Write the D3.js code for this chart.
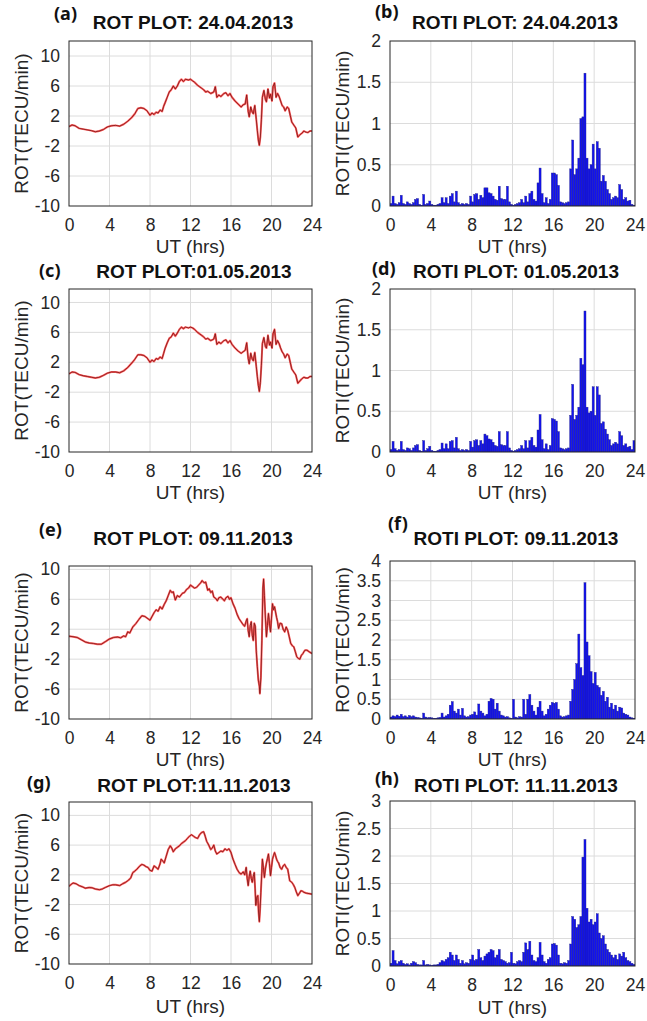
<!DOCTYPE html>
<html>
<head>
<meta charset="utf-8">
<script src="https://cdn.jsdelivr.net/npm/d3@7"></script>
<style>
  body { margin: 0; background: #fff; }
  svg { display: block; font-family: "Liberation Sans", Arial, sans-serif; }
</style>
</head>
<body>
<svg id="fig" width="647" height="1021"></svg>
<script>
// ---- axis ticks ----
const hourTicks = [0, 4, 8, 12, 16, 20, 24];
const rotTicks = [-10, -6, -2, 2, 6, 10];
const rotiTicks2 = [0, 0.5, 1, 1.5, 2];
const rotiTicks3 = [0, 0.5, 1, 1.5, 2, 2.5, 3];
const rotiTicks4 = [0, 0.5, 1, 1.5, 2, 2.5, 3, 3.5, 4];

// ---- ROT series, [UT hour, TECU/min] ----
const rotA = [
  [0,0.6],[0.3,0.8],[0.6,0.7],[1,0.35],[1.4,0.25],[1.8,0.15],[2.2,0.05],[2.6,-0.1],[3,0.0],[3.4,0.2],
  [3.8,0.55],[4.2,0.7],[4.6,0.75],[5,0.65],[5.4,0.9],[5.8,1.3],[6.2,1.8],[6.5,2.3],[6.8,3.0],[7.1,3.1],
  [7.4,3.0],[7.7,2.7],[8,2.1],[8.2,2.4],[8.4,2.2],[8.6,2.5],[8.8,2.4],[9,2.8],[9.2,2.6],[9.35,3.3],
  [9.5,3.8],[9.7,4.5],[9.9,5.2],[10.1,5.5],[10.3,6.0],[10.5,5.6],[10.7,6.0],[10.9,6.6],[11.1,6.9],[11.3,6.6],
  [11.5,6.9],[11.8,6.8],[12,6.9],[12.2,6.7],[12.4,6.5],[12.7,6.1],[12.9,5.9],[13.1,5.7],[13.3,5.5],[13.5,5.2],
  [13.7,5.3],[14,5.0],[14.3,5.2],[14.45,5.9],[14.6,4.5],[14.8,4.8],[15,4.6],[15.3,5.0],[15.5,5.1],[15.7,4.7],
  [15.9,5.0],[16.1,4.5],[16.4,4.0],[16.7,3.6],[17,3.2],[17.2,3.5],[17.4,3.6],[17.55,4.8],[17.7,2.6],[17.8,1.9],
  [17.95,3.2],[18.1,2.5],[18.2,2.3],[18.35,3.4],[18.5,1.5],[18.6,0.1],[18.7,-1.2],[18.8,-1.9],[18.9,-0.8],[19.0,1.5],
  [19.1,4.5],[19.25,5.4],[19.4,4.2],[19.5,3.9],[19.65,5.6],[19.8,4.4],[19.9,4.9],[20.05,4.0],[20.15,5.9],[20.3,6.4],
  [20.45,4.5],[20.6,5.0],[20.75,4.6],[20.9,4.0],[21.05,3.4],[21.2,3.2],[21.35,2.7],[21.55,3.2],[21.7,3.0],[21.85,2.1],
  [22,1.2],[22.2,0.8],[22.4,0.4],[22.6,-0.8],[22.8,-0.5],[23.0,-0.3],[23.2,0.0],[23.4,-0.15],[23.6,-0.2],[23.8,0.0],[24,0.0]
];
const rotC = [
  [0,0.45],[0.3,0.7],[0.6,0.65],[1,0.35],[1.4,0.2],[1.8,0.1],[2.2,0.0],[2.6,-0.1],[3,0.0],[3.4,0.25],
  [3.8,0.55],[4.2,0.7],[4.6,0.7],[5,0.6],[5.4,0.85],[5.8,1.3],[6.2,1.9],[6.5,2.4],[6.8,3.0],[7.1,3.0],
  [7.4,2.9],[7.7,2.6],[8,2.0],[8.2,2.3],[8.4,2.1],[8.6,2.5],[8.8,2.4],[9,2.7],[9.2,2.5],[9.35,3.2],
  [9.5,3.9],[9.7,4.6],[9.9,5.2],[10.1,5.4],[10.3,5.9],[10.5,5.5],[10.7,5.9],[10.9,6.4],[11.1,6.7],[11.3,6.5],
  [11.5,6.7],[11.8,6.6],[12,6.7],[12.2,6.6],[12.4,6.4],[12.7,6.0],[12.9,5.8],[13.1,5.6],[13.3,5.4],[13.5,5.1],
  [13.7,5.2],[14,4.9],[14.3,5.1],[14.45,5.8],[14.6,4.4],[14.8,4.7],[15,4.5],[15.3,4.9],[15.5,5.0],[15.7,4.6],
  [15.9,4.9],[16.1,4.4],[16.4,3.9],[16.7,3.5],[17,3.2],[17.2,3.4],[17.4,3.6],[17.55,4.6],[17.7,2.5],[17.8,1.8],
  [17.95,3.2],[18.1,2.4],[18.2,2.2],[18.35,3.3],[18.5,1.4],[18.6,0.1],[18.7,-1.1],[18.8,-1.9],[18.9,-0.7],[19.0,1.6],
  [19.1,4.5],[19.25,5.3],[19.4,4.1],[19.5,3.9],[19.65,5.6],[19.8,4.3],[19.9,4.7],[20.05,3.9],[20.15,5.8],[20.3,6.4],
  [20.45,4.4],[20.6,4.9],[20.75,4.5],[20.9,3.9],[21.05,3.4],[21.2,3.1],[21.35,2.6],[21.55,3.1],[21.7,2.9],[21.85,2.0],
  [22,1.1],[22.2,0.7],[22.4,0.3],[22.6,-0.8],[22.8,-0.5],[23.0,-0.2],[23.2,0.0],[23.4,-0.1],[23.6,-0.1],[23.8,0.1],[24,0.1]
];
const rotE = [
  [0,1.07],[0.4,1.0],[0.8,0.9],[1.2,0.6],[1.6,0.3],[2,0.15],[2.4,0.1],[2.8,0.0],[3.2,0.0],[3.6,0.35],
  [4,0.7],[4.4,0.9],[4.8,0.95],[5.1,0.85],[5.4,1.1],[5.6,1.0],[5.8,1.65],[6,1.5],[6.3,2.3],[6.6,2.75],
  [6.9,3.3],[7.2,3.8],[7.5,3.7],[7.8,3.4],[8,3.2],[8.2,3.7],[8.4,4.2],[8.6,4.6],[8.8,4.4],[9.0,5.0],
  [9.2,4.7],[9.4,5.3],[9.6,5.8],[9.8,6.5],[10,7.2],[10.15,6.9],[10.3,7.0],[10.5,5.9],[10.7,6.5],[10.9,6.3],
  [11.2,6.8],[11.4,6.9],[11.6,7.3],[11.8,7.5],[12,7.9],[12.2,7.7],[12.4,7.5],[12.6,7.6],[12.8,7.9],[13.0,8.2],
  [13.15,8.5],[13.35,8.2],[13.5,8.3],[13.7,7.2],[13.85,7.4],[14,6.9],[14.15,7.1],[14.3,6.3],[14.5,6.1],[14.65,5.8],
  [14.8,6.2],[15,6.3],[15.2,6.0],[15.35,5.8],[15.5,6.2],[15.7,6.4],[15.85,6.0],[16,6.2],[16.2,5.4],[16.4,4.8],
  [16.6,4.0],[16.8,3.4],[17,3.0],[17.2,2.6],[17.35,2.4],[17.5,3.1],[17.6,3.4],[17.7,1.8],[17.8,1.0],[17.9,2.5],
  [18,3.0],[18.1,1.2],[18.2,0.5],[18.3,2.8],[18.4,2.4],[18.5,-1.0],[18.6,-3.0],[18.7,-4.8],[18.8,-5.6],[18.85,-6.6],
  [18.95,-4.5],[19.05,0.5],[19.15,7.5],[19.22,8.7],[19.3,6.5],[19.4,3.5],[19.5,1.0],[19.6,2.5],[19.7,4.1],[19.8,2.8],
  [19.9,1.65],[20.0,3.5],[20.1,5.4],[20.2,4.6],[20.3,5.0],[20.4,4.3],[20.5,3.6],[20.6,3.0],[20.7,2.1],[20.85,2.8],
  [21,2.75],[21.15,2.0],[21.3,1.65],[21.45,2.3],[21.6,1.85],[21.75,1.0],[21.9,0.1],[22.05,-0.2],[22.2,-0.35],[22.35,-1.0],
  [22.5,-1.7],[22.65,-1.9],[22.8,-2.0],[22.95,-1.5],[23.1,-1.25],[23.3,-0.8],[23.5,-0.8],[23.7,-1.0],[24,-1.25]
];
const rotG = [
  [0,0.45],[0.2,0.7],[0.4,0.9],[0.7,0.8],[1,0.55],[1.3,0.4],[1.6,0.2],[2,0.3],[2.3,0.25],[2.6,0.1],
  [3,0.0],[3.3,0.1],[3.6,0.3],[4,0.55],[4.3,0.65],[4.6,0.65],[5,0.55],[5.3,0.8],[5.6,1.0],[5.9,1.3],
  [6.1,1.6],[6.3,2.3],[6.5,2.5],[6.7,2.75],[7,3.2],[7.2,3.4],[7.4,3.3],[7.6,3.1],[7.8,3.0],[8,2.6],
  [8.2,2.5],[8.4,3.2],[8.6,3.0],[8.8,2.75],[9,3.5],[9.1,4.1],[9.3,3.8],[9.4,3.6],[9.6,4.5],[9.8,5.4],
  [10,5.9],[10.15,5.6],[10.3,5.1],[10.5,5.5],[10.7,5.7],[10.9,5.9],[11.1,6.2],[11.3,6.4],[11.5,6.6],[11.7,6.9],
  [11.9,7.2],[12.1,7.4],[12.3,7.2],[12.5,7.0],[12.7,6.9],[12.9,7.4],[13.1,7.7],[13.3,7.8],[13.45,7.2],[13.6,6.5],
  [13.8,6.0],[14,5.4],[14.15,5.6],[14.3,6.0],[14.45,5.2],[14.6,4.8],[14.8,5.0],[15,5.2],[15.2,5.1],[15.4,5.5],
  [15.6,5.3],[15.8,5.5],[16,5.0],[16.2,4.1],[16.4,3.4],[16.6,2.75],[16.8,2.3],[17,2.1],[17.2,2.4],[17.35,2.0],
  [17.5,3.0],[17.6,1.5],[17.7,0.55],[17.8,1.8],[17.9,2.5],[18.0,1.5],[18.1,1.0],[18.2,1.8],[18.3,2.3],[18.38,0.2],
  [18.45,-2.1],[18.55,-1.0],[18.65,-0.8],[18.72,-3.0],[18.8,-4.3],[18.88,-2.5],[18.95,-0.35],[19.05,2.5],[19.1,4.1],[19.2,3.0],
  [19.3,1.65],[19.4,2.8],[19.5,3.6],[19.6,4.2],[19.7,4.8],[19.8,3.5],[19.9,1.9],[20.0,3.0],[20.1,4.1],[20.2,4.6],
  [20.3,5.0],[20.4,4.6],[20.5,4.1],[20.6,3.8],[20.7,3.6],[20.85,3.0],[21,2.75],[21.15,3.2],[21.3,3.4],[21.45,3.0],
  [21.6,2.75],[21.7,2.0],[21.8,1.2],[22,1.0],[22.15,0.7],[22.3,0.3],[22.45,-0.3],[22.6,-0.8],[22.75,-0.5],[22.9,-0.15],
  [23.05,-0.2],[23.2,-0.35],[23.4,-0.45],[23.6,-0.5],[23.8,-0.55],[24,-0.6]
];

// ---- ROTI series, one value per 0.2 h bin starting at 0 UT ----
const rotiB = [
  0.03,0.12,0.03,0.02,0.04,0.13,0.03,0.02,0.05,0.03,
  0.02,0.04,0.08,0.09,0.02,0.01,0.14,0.02,0.03,0.06,
  0.02,0.01,0.01,0.02,0.03,0.10,0.04,0.10,0.03,0.12,
  0.15,0.05,0.18,0.04,0.02,0.03,0.02,0.03,0.02,0.12,
  0.05,0.14,0.15,0.08,0.13,0.10,0.22,0.22,0.16,0.15,
  0.12,0.08,0.07,0.24,0.09,0.08,0.08,0.24,0.05,0.02,
  0.01,0.02,0.03,0.04,0.08,0.04,0.12,0.05,0.15,0.18,
  0.08,0.06,0.28,0.46,0.15,0.04,0.10,0.03,0.08,0.40,
  0.40,0.38,0.25,0.05,0.04,0.03,0.04,0.05,0.45,0.80,
  0.38,0.45,0.58,1.06,1.08,1.61,0.58,0.45,0.50,0.75,
  0.45,0.78,0.70,0.30,0.37,0.30,0.20,0.15,0.08,0.10,
  0.12,0.10,0.26,0.20,0.08,0.10,0.06,0.07,0.02,0.01
];
const rotiD = [
  0.03,0.13,0.04,0.02,0.03,0.13,0.03,0.02,0.05,0.04,
  0.02,0.05,0.08,0.09,0.02,0.01,0.14,0.02,0.04,0.07,
  0.02,0.01,0.01,0.02,0.03,0.11,0.04,0.10,0.04,0.13,
  0.14,0.05,0.18,0.04,0.02,0.03,0.02,0.03,0.02,0.13,
  0.06,0.14,0.15,0.08,0.14,0.10,0.22,0.20,0.16,0.15,
  0.12,0.08,0.07,0.25,0.09,0.08,0.08,0.25,0.05,0.02,
  0.01,0.02,0.03,0.04,0.08,0.04,0.14,0.05,0.14,0.18,
  0.08,0.06,0.27,0.46,0.15,0.04,0.10,0.03,0.08,0.41,
  0.40,0.38,0.25,0.05,0.04,0.03,0.04,0.05,0.45,0.83,
  0.40,0.45,0.55,1.15,1.07,1.73,0.55,0.48,0.50,0.80,
  0.45,0.80,0.70,0.35,0.37,0.28,0.22,0.15,0.08,0.10,
  0.12,0.10,0.25,0.20,0.08,0.10,0.06,0.07,0.03,0.14
];
const rotiF = [
  0.05,0.08,0.06,0.10,0.07,0.12,0.06,0.08,0.05,0.09,
  0.06,0.08,0.05,0.04,0.03,0.02,0.15,0.05,0.03,0.04,
  0.03,0.02,0.02,0.03,0.04,0.15,0.05,0.08,0.12,0.35,
  0.44,0.20,0.15,0.25,0.10,0.27,0.08,0.05,0.06,0.10,
  0.12,0.18,0.10,0.38,0.20,0.15,0.08,0.12,0.45,0.52,
  0.50,0.25,0.40,0.20,0.10,0.08,0.05,0.06,0.03,0.02,
  0.50,0.05,0.03,0.06,0.05,0.50,0.12,0.50,0.62,0.35,
  0.20,0.10,0.30,0.45,0.20,0.08,0.12,0.25,0.35,0.42,
  0.40,0.42,0.25,0.08,0.05,0.06,0.08,0.10,0.45,0.75,
  1.00,1.40,2.15,1.30,1.10,3.45,1.95,1.60,1.20,0.90,
  1.18,0.85,0.80,0.60,0.70,0.45,0.55,0.30,0.40,0.25,
  0.35,0.20,0.30,0.28,0.15,0.12,0.10,0.05,0.03,0.02
];
const rotiH = [
  0.05,0.28,0.10,0.04,0.08,0.10,0.05,0.03,0.04,0.02,
  0.05,0.08,0.06,0.03,0.02,0.02,0.10,0.02,0.03,0.02,
  0.01,0.02,0.02,0.03,0.06,0.10,0.08,0.12,0.15,0.25,
  0.20,0.10,0.20,0.12,0.05,0.10,0.04,0.06,0.05,0.12,
  0.20,0.10,0.12,0.30,0.15,0.10,0.18,0.22,0.25,0.30,
  0.28,0.15,0.20,0.30,0.12,0.10,0.08,0.05,0.06,0.25,
  0.05,0.04,0.08,0.10,0.08,0.25,0.42,0.30,0.45,0.20,
  0.10,0.08,0.15,0.43,0.20,0.08,0.05,0.12,0.15,0.40,
  0.41,0.38,0.20,0.05,0.04,0.06,0.05,0.10,0.40,0.90,
  0.85,0.70,0.75,0.90,1.98,2.30,1.05,0.80,0.85,0.75,
  0.80,0.95,0.60,0.50,0.55,0.40,0.30,0.25,0.20,0.15,
  0.20,0.12,0.22,0.18,0.25,0.15,0.10,0.08,0.05,0.03
];
const binHours = 0.2;

// ---- panel layout ----
const panels = [
  { tag: '(a)', title: 'ROT PLOT: 24.04.2013', rot: rotA, yDom: [-10, 12], yTicks: rotTicks,
    box: [69, 41, 312, 206], tagPos: [54, 20], titlePos: [193, 29], xlab: 47 },
  { tag: '(b)', title: 'ROTI PLOT: 24.04.2013', roti: rotiB, yDom: [0, 2], yTicks: rotiTicks2,
    box: [390, 41, 635, 206], tagPos: [375, 18], titlePos: [515, 29], xlab: 47 },
  { tag: '(c)', title: 'ROT PLOT:01.05.2013', rot: rotC, yDom: [-10, 11.8], yTicks: rotTicks,
    box: [69, 289, 312, 452], tagPos: [39, 277], titlePos: [194, 278], xlab: 47 },
  { tag: '(d)', title: 'ROTI PLOT: 01.05.2013', roti: rotiD, yDom: [0, 2], yTicks: rotiTicks2,
    box: [390, 289, 635, 452], tagPos: [372, 275], titlePos: [516, 278], xlab: 47 },
  { tag: '(e)', title: 'ROT PLOT: 09.11.2013', rot: rotE, yDom: [-10, 10.45], yTicks: rotTicks,
    box: [69, 566, 312, 719], tagPos: [39, 536], titlePos: [193, 545], xlab: 47 },
  { tag: '(f)', title: 'ROTI PLOT: 09.11.2013', roti: rotiF, yDom: [0, 4], yTicks: rotiTicks4,
    box: [390, 561, 635, 719], tagPos: [388, 530], titlePos: [516, 545], xlab: 47 },
  { tag: '(g)', title: 'ROT PLOT:11.11.2013', rot: rotG, yDom: [-10, 11.8], yTicks: rotTicks,
    box: [69, 802, 312, 964], tagPos: [27, 789], titlePos: [194, 792], xlab: 49 },
  { tag: '(h)', title: 'ROTI PLOT: 11.11.2013', roti: rotiH, yDom: [0, 3], yTicks: rotiTicks3,
    box: [390, 801, 635, 966], tagPos: [375, 785], titlePos: [516, 792], xlab: 48 }
];

const svg = d3.select('#fig');
const ink = '#262626';
const tickFmt = d => String(d);   // plain hyphen for negatives, as in the figure

panels.forEach(function(p, i) {
  const [x0, y0, x1, y1] = p.box;
  const x = d3.scaleLinear().domain([0, 24]).range([x0, x1]);
  const y = d3.scaleLinear().domain(p.yDom).range([y1, y0]);
  const g = svg.append('g').attr('class', 'panel');

  // grid
  g.append('g').selectAll('line').data(hourTicks.slice(1, -1)).join('line')
    .attr('x1', d => x(d)).attr('x2', d => x(d)).attr('y1', y0).attr('y2', y1)
    .attr('stroke', '#dcdcdc').attr('stroke-width', 1);
  g.append('g').selectAll('line').data(p.yTicks.filter(d => d > p.yDom[0] && d < p.yDom[1])).join('line')
    .attr('x1', x0).attr('x2', x1).attr('y1', d => y(d)).attr('y2', d => y(d))
    .attr('stroke', '#dcdcdc').attr('stroke-width', 1);

  const clipId = 'clip' + i;
  g.append('clipPath').attr('id', clipId).append('rect')
    .attr('x', x0).attr('y', y0).attr('width', x1 - x0).attr('height', y1 - y0);
  const plot = g.append('g').attr('clip-path', 'url(#' + clipId + ')');

  if (p.rot) {
    const line = d3.line().x(d => x(d[0])).y(d => y(d[1]));
    plot.append('path').datum(p.rot).attr('d', line)
      .attr('fill', 'none').attr('stroke', '#ff2a2a').attr('stroke-width', 2).attr('stroke-opacity', 0.75)
      .attr('stroke-linejoin', 'round');
    plot.append('path').datum(p.rot).attr('d', line)
      .attr('fill', 'none').attr('stroke', '#7a1515').attr('stroke-width', 0.8)
      .attr('stroke-linejoin', 'round');
  } else {
    plot.selectAll('rect').data(p.roti).join('rect')
      .attr('x', (d, k) => x(k * binHours))
      .attr('width', x(binHours) - x(0))
      .attr('y', d => y(d))
      .attr('height', d => y(0) - y(d))
      .attr('fill', '#1212f0')
      .attr('stroke', '#22228a').attr('stroke-width', 0.4);
  }

  // box
  g.append('rect').attr('x', x0).attr('y', y0).attr('width', x1 - x0).attr('height', y1 - y0)
    .attr('fill', 'none').attr('stroke', ink).attr('stroke-width', 1);

  // axes
  const xAxis = d3.axisBottom(x).tickValues(hourTicks).tickSize(0).tickPadding(13);
  g.append('g').attr('transform', 'translate(0,' + y1 + ')').call(xAxis)
    .call(a => a.select('.domain').remove())
    .selectAll('text').attr('font-size', 17.5).attr('fill', ink)
    .attr('font-family', 'Liberation Sans, Arial, sans-serif');
  const yAxis = d3.axisLeft(y).tickValues(p.yTicks).tickSize(0).tickPadding(9).tickFormat(tickFmt);
  g.append('g').attr('transform', 'translate(' + x0 + ',0)').call(yAxis)
    .call(a => a.select('.domain').remove())
    .selectAll('text').attr('font-size', 17.5).attr('fill', ink)
    .attr('font-family', 'Liberation Sans, Arial, sans-serif');

  // labels
  g.append('text').attr('x', (x0 + x1) / 2).attr('y', y1 + p.xlab)
    .attr('text-anchor', 'middle').attr('font-size', 19).attr('fill', ink).text('UT (hrs)');
  g.append('text')
    .attr('transform', 'translate(' + (x0 - 41) + ',' + ((y0 + y1) / 2) + ') rotate(-90)')
    .attr('text-anchor', 'middle').attr('font-size', 19).attr('fill', ink)
    .text(p.rot ? 'ROT(TECU/min)' : 'ROTI(TECU/min)');
  g.append('text').attr('x', p.titlePos[0]).attr('y', p.titlePos[1])
    .attr('text-anchor', 'middle').attr('font-size', 19).attr('font-weight', 'bold')
    .attr('fill', '#111').text(p.title);
  g.append('text').attr('x', p.tagPos[0]).attr('y', p.tagPos[1])
    .attr('font-size', 18).attr('font-weight', 'bold').attr('font-family', 'Noto Sans, sans-serif')
    .attr('fill', '#111').text(p.tag);
});
</script>
</body>
</html>
